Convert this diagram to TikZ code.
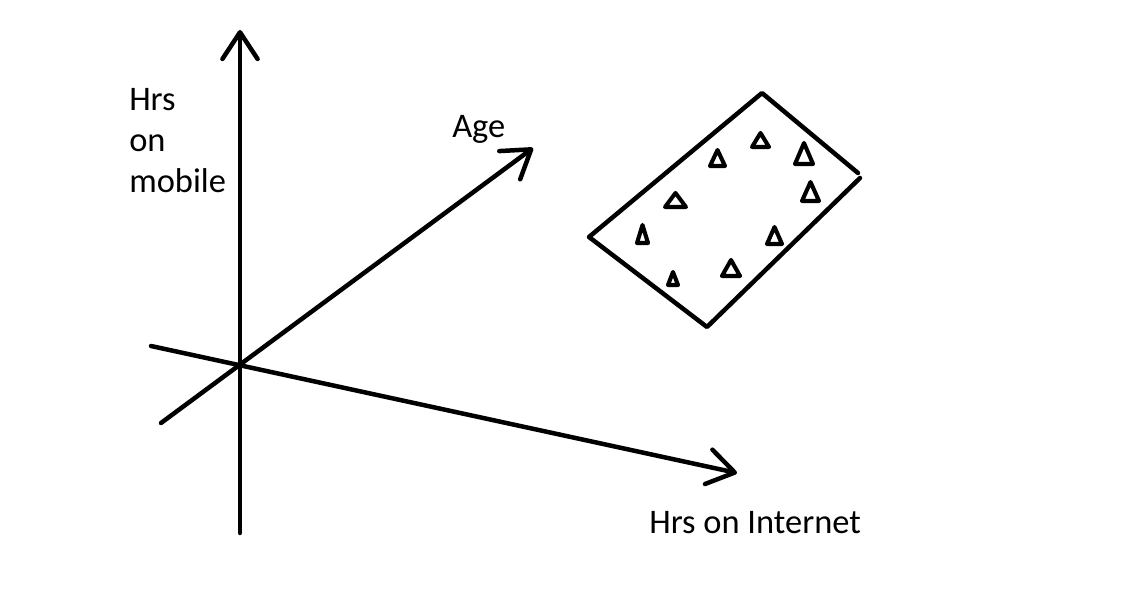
\documentclass[tikz,border=0pt]{standalone}
\usepackage{fontspec}
\setmainfont{Carlito}
\usetikzlibrary{arrows.meta}
\begin{document}
\begin{tikzpicture}[x=0.025cm,y=-0.025cm,
  axis/.style={line width=3.2pt,line cap=round,-{Straight Barb[length=19pt,width=25pt,line cap=round,line join=round]}},
  box/.style={line width=3.2pt,line cap=round,line join=round},
  marker/.style={line width=2.9pt,line join=round},
  lbl/.style={font=\fontsize{24.5}{29.5}\selectfont,inner sep=0pt}]
\useasboundingbox (0,0) rectangle (1146,590);
\coordinate (mobileStart) at (240,533);
\coordinate (mobileEnd) at (240,30);
\coordinate (ageStart) at (161,423);
\coordinate (ageEnd) at (533,148);
\coordinate (netStart) at (151,346);
\coordinate (netEnd) at (737,473);
\draw[axis] (mobileStart) -- (mobileEnd);
\draw[axis] (ageStart) -- (ageEnd);
\draw[axis] (netStart) -- (netEnd);
\node[lbl,anchor=base west,align=left] (mobile) at (129,193) {Hrs\\on\\mobile};
\node[lbl,anchor=base west] (age) at (452,138) {Age};
\node[lbl,anchor=base west] (net) at (649,533) {Hrs on Internet};
\draw[box] (858,173) -- (762,93) -- (589,237) -- (707,327) -- (860,178);
\foreach \cx/\cy/\w/\h in {760.5/140/17/14, 717.5/158/15/16, 804/153.5/18/21,
    810.5/191.5/17/19, 675.5/200/21/14, 642.5/234/11/18,
    774.5/235.5/15/17, 731/268/18/16, 673/278.5/10/13}
  \draw[marker] (\cx-\w/2,\cy+\h/2) -- (\cx,\cy-\h/2) -- (\cx+\w/2,\cy+\h/2) -- cycle;
\end{tikzpicture}
\end{document}
